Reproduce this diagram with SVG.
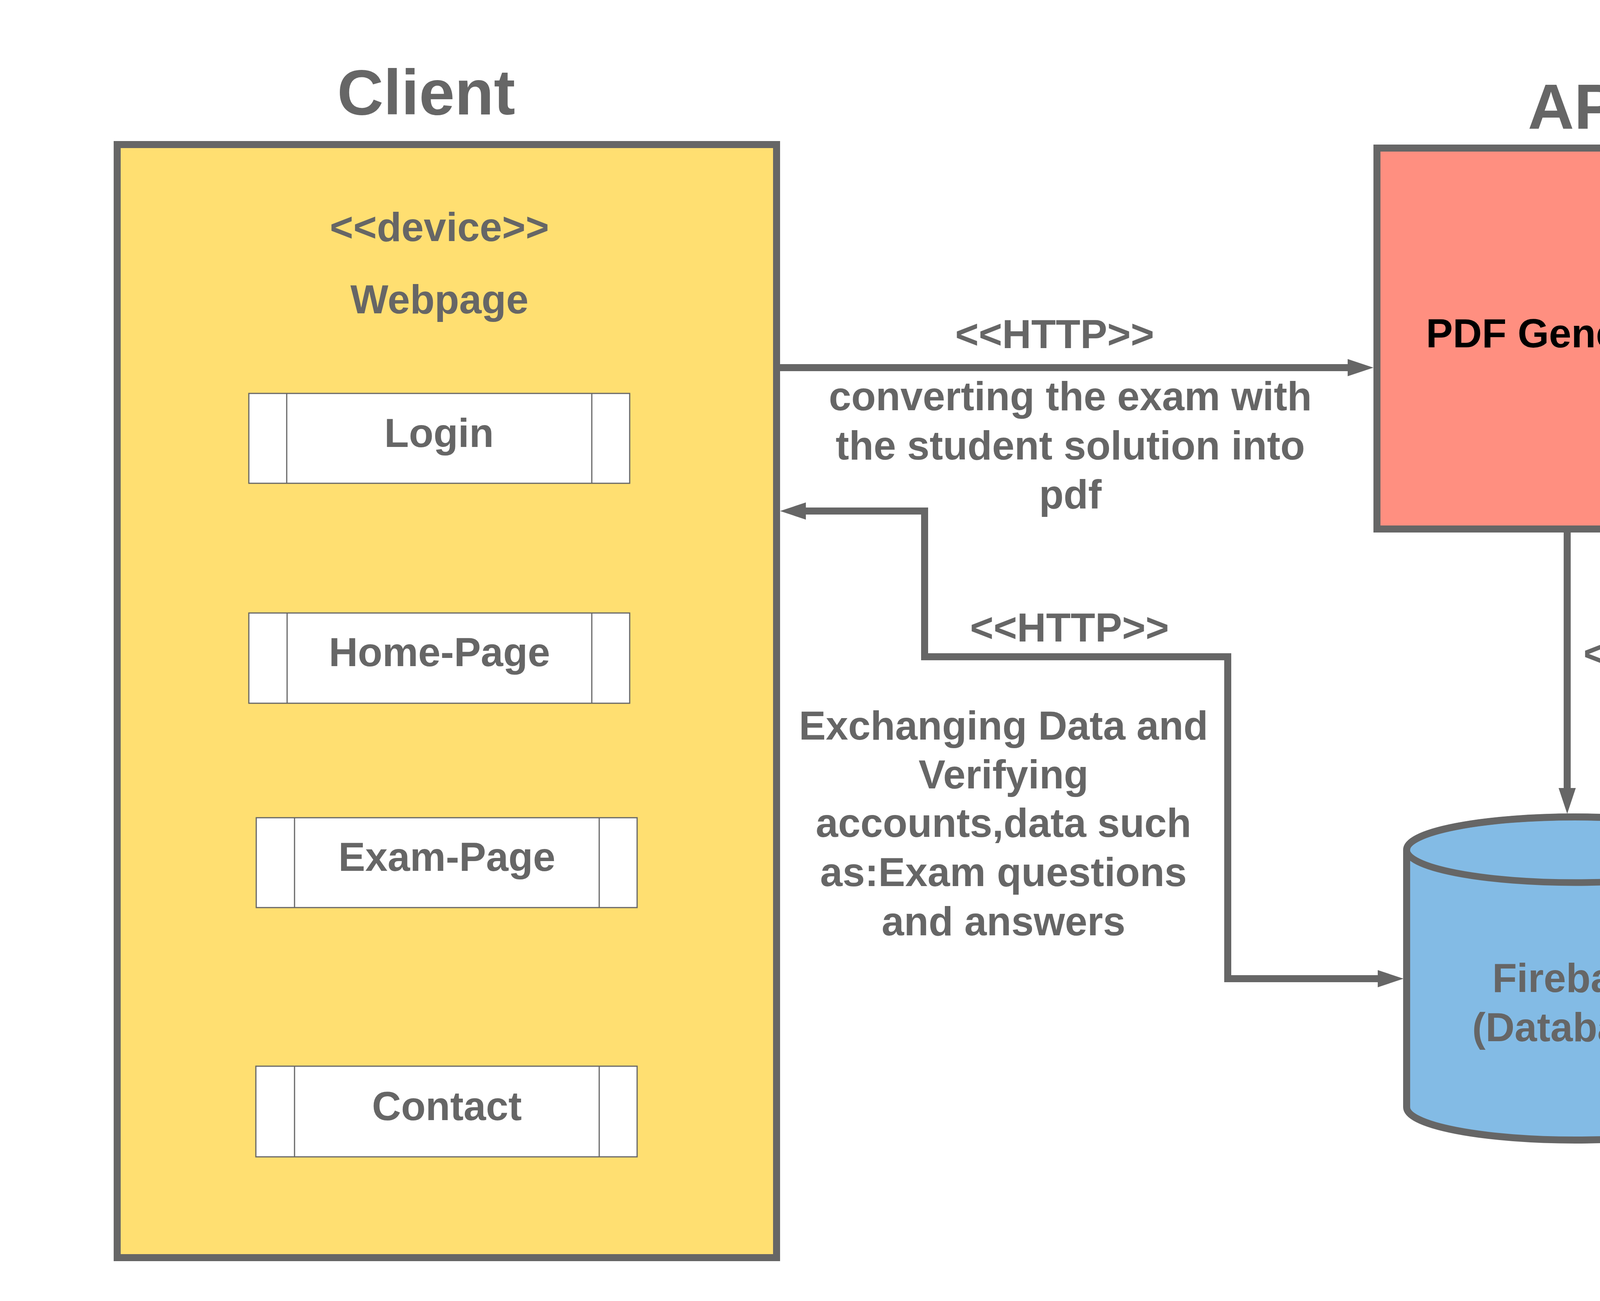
<svg xmlns="http://www.w3.org/2000/svg" width="5717" height="3330" viewBox="0 0 5717 3330">
  <style>
    text { font-family: "Liberation Sans", Arial, sans-serif; font-weight: bold; fill: #666666; text-anchor: middle; }
    .title { font-size: 164px; }
    .lbl { font-size: 103px; }
    .dark { fill: #000000; }
    .frame { stroke: #666666; stroke-width: 18; }
    .item { fill: #FFFFFF; stroke: #666666; stroke-width: 3; }
    .conn { fill: none; stroke: #666666; stroke-width: 18; stroke-linejoin: miter; }
  </style>
  <defs>
    <marker id="arrow" markerUnits="userSpaceOnUse" markerWidth="70" markerHeight="50" refX="0" refY="22" orient="auto-start-reverse" viewBox="0 0 70 50">
      <path d="M0,0 L66,22 L0,44 Z" fill="#666666"/>
    </marker>
  </defs>
  <rect width="5717" height="3330" fill="#FFFFFF"/>

  <g id="client">
    <text class="title" x="1091" y="293">Client</text>
    <rect class="frame" x="300" y="370" width="1688" height="2849" fill="#FFDF71"/>
    <text class="lbl" x="1125" y="617">&lt;&lt;device&gt;&gt;</text>
    <text class="lbl" x="1125" y="802">Webpage</text>
  </g>

  <g id="login">
    <rect class="item" x="637" y="1007" width="975" height="230"/>
    <line class="item" x1="734" y1="1007" x2="734" y2="1237"/>
    <line class="item" x1="1515" y1="1007" x2="1515" y2="1237"/>
    <text class="lbl" x="1124" y="1144">Login</text>
  </g>

  <g id="home-page">
    <rect class="item" x="637" y="1569" width="975" height="231"/>
    <line class="item" x1="735" y1="1569" x2="735" y2="1800"/>
    <line class="item" x1="1515" y1="1569" x2="1515" y2="1800"/>
    <text class="lbl" x="1125" y="1705">Home-Page</text>
  </g>

  <g id="exam-page">
    <rect class="item" x="656" y="2093" width="975" height="230"/>
    <line class="item" x1="754" y1="2093" x2="754" y2="2323"/>
    <line class="item" x1="1534" y1="2093" x2="1534" y2="2323"/>
    <text class="lbl" x="1144" y="2229">Exam-Page</text>
  </g>

  <g id="contact">
    <rect class="item" x="655" y="2729" width="976" height="232"/>
    <line class="item" x1="754" y1="2729" x2="754" y2="2961"/>
    <line class="item" x1="1534" y1="2729" x2="1534" y2="2961"/>
    <text class="lbl" x="1144" y="2867">Contact</text>
  </g>

  <g id="api">
    <text class="title" x="4048" y="330">API</text>
    <rect class="frame" x="3525" y="379" width="975" height="975" fill="#FF8F80"/>
    <text class="lbl dark" x="4014" y="889">PDF Generator</text>
  </g>

  <g id="firebase">
    <path class="frame" fill="#83BBE5" stroke-width="17" d="M3601,2175 A431,84 0 0 1 4463,2175 L4463,2834 A431,84 0 0 1 3601,2834 Z"/>
    <ellipse cx="4032" cy="2175" rx="431" ry="84" fill="none" stroke="#666666" stroke-width="17"/>
    <text class="lbl" x="4032" y="2539">Firebase</text>
    <text class="lbl" x="4032" y="2665">(Database)</text>
  </g>

  <g id="server">
    <text class="title" x="4801" y="2763">Server</text>
  </g>

  <g id="connectors">
    <path class="conn" d="M1997,941 L3450,941" marker-end="url(#arrow)"/>
    <path class="conn" d="M2063,1308 L2367,1308 L2367,1681 L3143,1681 L3143,2505 L3527,2505" marker-start="url(#arrow)" marker-end="url(#arrow)"/>
    <path class="conn" d="M4012,1363 L4012,2017" marker-end="url(#arrow)"/>
  </g>

  <g id="connector-labels">
    <text class="lbl" x="2700" y="891">&lt;&lt;HTTP&gt;&gt;</text>
    <text class="lbl" x="2740" y="1050">converting the exam with</text>
    <text class="lbl" x="2740" y="1176">the student solution into</text>
    <text class="lbl" x="2740" y="1301">pdf</text>
    <text class="lbl" x="2738" y="1642">&lt;&lt;HTTP&gt;&gt;</text>
    <text class="lbl" x="2569" y="1893">Exchanging Data and</text>
    <text class="lbl" x="2569" y="2018">Verifying</text>
    <text class="lbl" x="2569" y="2142">accounts,data such</text>
    <text class="lbl" x="2569" y="2268">as:Exam questions</text>
    <text class="lbl" x="2569" y="2394">and answers</text>
    <text class="lbl" x="4725" y="1708">&lt;&lt;HTTP POST REQUEST&gt;&gt;</text>
    <text class="lbl" x="4725" y="1851">Posting the exam(pdf file)</text>
    <text class="lbl" x="4725" y="1976">to database</text>
  </g>
</svg>
